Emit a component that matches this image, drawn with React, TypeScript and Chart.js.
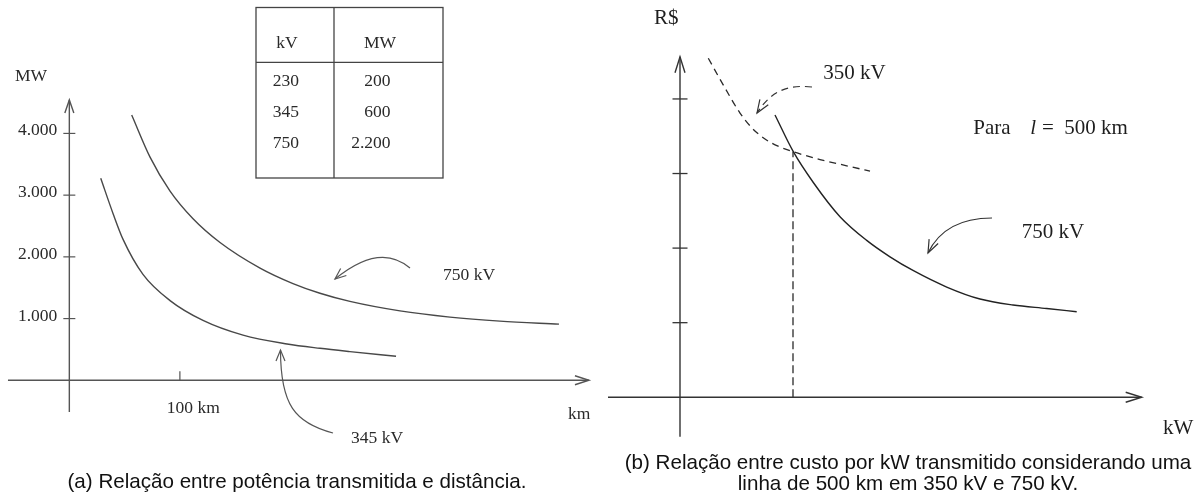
import React, { useEffect, useRef } from 'react';
import { Chart, registerables } from 'chart.js';

Chart.register(...registerables);

// ---------- Panel (a): power vs distance ----------
const distance345 = [28.4, 39.5, 48.6, 66.6, 91.1, 120.9, 157.1, 196.9, 226.7, 253.8, 295.5];
const power345 = [3273, 2704, 2283, 1716, 1291, 970, 731, 588, 518, 465, 390];
const distance750 = [56.4, 73.0, 91.1, 111.9, 136.3, 172.5, 202.3, 226.7, 253.8, 299.1, 344.3, 389.5, 442.9];
const power750 = [4299, 3617, 3066, 2618, 2233, 1818, 1567, 1410, 1278, 1124, 1024, 959, 910];
const powerTicks = [1000, 2000, 3000, 4000];
const distanceTicks = [100];
const tableKV = ['230', '345', '750'];
const tableMW = [200, 600, 2200];

// ---------- Panel (b): cost per kW vs kW ----------
const load350 = [0.566, 0.9, 1.2, 1.44, 1.7, 1.98, 2.26, 2.8, 3.334, 3.8];
const cost350 = [4.545, 4.147, 3.811, 3.61, 3.463, 3.362, 3.293, 3.187, 3.104, 3.031];
const load750 = [1.9, 2.266, 2.666, 3.2, 3.734, 4.2, 4.66, 5.334, 6.0, 6.66, 7.334, 7.934];
const cost750 = [3.785, 3.293, 2.88, 2.421, 2.103, 1.883, 1.7, 1.478, 1.317, 1.237, 1.19, 1.147];
const crossLoad = [2.26];
const crossCost = [3.293];
const costTicks = [1, 2, 3, 4];

const SERIF = '"Liberation Serif", "Times New Roman", serif';
const SANS = '"Liberation Sans", Arial, Helvetica, sans-serif';

const fmtBR = (n: number) => String(n).replace(/\B(?=(\d{3})+(?!\d))/g, '.');

function txt(ctx: CanvasRenderingContext2D, s: string, x: number, cy: number, size: number, align: CanvasTextAlign = 'left', italic = false) {
  ctx.font = `${italic ? 'italic ' : ''}${size}px ${SERIF}`;
  ctx.textAlign = align;
  ctx.textBaseline = 'alphabetic';
  ctx.fillText(s, x, cy + 0.34 * size);
}
function seg(ctx: CanvasRenderingContext2D, x1: number, y1: number, x2: number, y2: number) {
  ctx.beginPath();
  ctx.moveTo(x1, y1);
  ctx.lineTo(x2, y2);
  ctx.stroke();
}
function head(ctx: CanvasRenderingContext2D, tx: number, ty: number, dx: number, dy: number, len: number, half: number) {
  const l = Math.hypot(dx, dy);
  const ux = dx / l, uy = dy / l;
  const bx = tx - ux * len, by = ty - uy * len;
  const px = -uy, py = ux;
  ctx.beginPath();
  ctx.moveTo(bx + px * half, by + py * half);
  ctx.lineTo(tx, ty);
  ctx.lineTo(bx - px * half, by - py * half);
  ctx.stroke();
}

const A_X_EXT = [-55.5, 470];
const A_Y_EXT = [-514, 4542];
const B_X_EXT = [-1.44, 9.234];
const B_Y_EXT = [-0.529, 4.566];

const panelAPlugin = {
  id: 'panelA',
  afterDraw(chart: any) {
    const { ctx, scales } = chart;
    const x = scales.x, y = scales.y;
    const x0 = x.getPixelForValue(0), y0 = y.getPixelForValue(0);
    ctx.save();
    ctx.strokeStyle = '#555';
    ctx.fillStyle = '#2a2a2a';
    ctx.lineWidth = 1.4;
    const xl = x.getPixelForValue(A_X_EXT[0]), xr = x.getPixelForValue(A_X_EXT[1]);
    seg(ctx, xl, y0, xr, y0);
    head(ctx, xr, y0, 1, 0, 14, 4.5);
    const yb = y.getPixelForValue(A_Y_EXT[0]), yt = y.getPixelForValue(A_Y_EXT[1]);
    seg(ctx, x0, yb, x0, yt);
    head(ctx, x0, yt, 0, -1, 13, 4.5);
    ctx.lineWidth = 1.2;
    powerTicks.forEach((v) => {
      const py = y.getPixelForValue(v);
      seg(ctx, x0 - 6, py, x0 + 6, py);
      txt(ctx, fmtBR(v), x0 - 12, py - 4, 17.5, 'right');
    });
    distanceTicks.forEach((v) => {
      const px = x.getPixelForValue(v);
      seg(ctx, px, y0 - 9, px, y0);
      txt(ctx, `${v} km`, px + 13.4, y0 + 26.7, 17.5, 'center');
    });
    txt(ctx, 'MW', 15, 75, 17.5);
    txt(ctx, 'km', 568, 413, 17.5);

    // table
    ctx.strokeStyle = '#444';
    ctx.lineWidth = 1.3;
    ctx.strokeRect(256, 7.5, 187, 170.5);
    seg(ctx, 334, 7.5, 334, 178);
    seg(ctx, 256, 62.3, 443, 62.3);
    txt(ctx, 'kV', 287, 41.7, 17.5, 'center');
    txt(ctx, 'MW', 380, 41.7, 17.5, 'center');
    const rowY = [80, 111, 142.5];
    tableKV.forEach((k, i) => txt(ctx, k, 272.7, rowY[i], 17.5, 'left'));
    tableMW.forEach((m, i) => txt(ctx, fmtBR(m), 390.5, rowY[i], 17.5, 'right'));

    // labels and pointers
    txt(ctx, '750 kV', 443, 274, 17.5);
    txt(ctx, '345 kV', 351, 437, 17.5);
    ctx.strokeStyle = '#555';
    ctx.lineWidth = 1.2;
    ctx.beginPath();
    ctx.moveTo(410, 268);
    ctx.quadraticCurveTo(380, 242, 335, 279);
    ctx.stroke();
    head(ctx, 335, 279, 335 - 380, 279 - 242, 11, 4.5);
    ctx.beginPath();
    ctx.moveTo(333, 433);
    ctx.bezierCurveTo(295, 423, 280.5, 405, 280.5, 350);
    ctx.stroke();
    head(ctx, 280.5, 350, 0, -1, 11, 4.5);
    ctx.restore();
  },
};

const panelBPlugin = {
  id: 'panelB',
  afterDraw(chart: any) {
    const { ctx, scales } = chart;
    const x = scales.x, y = scales.y;
    const x0 = x.getPixelForValue(0), y0 = y.getPixelForValue(0);
    ctx.save();
    ctx.strokeStyle = '#333';
    ctx.fillStyle = '#1e1e1e';
    ctx.lineWidth = 1.4;
    const xl = x.getPixelForValue(B_X_EXT[0]), xr = x.getPixelForValue(B_X_EXT[1]);
    seg(ctx, xl, y0, xr, y0);
    head(ctx, xr, y0, 1, 0, 16, 5);
    const yb = y.getPixelForValue(B_Y_EXT[0]), yt = y.getPixelForValue(B_Y_EXT[1]);
    seg(ctx, x0, yb, x0, yt);
    head(ctx, x0, yt, 0, -1, 16, 5);
    ctx.lineWidth = 1.3;
    costTicks.forEach((v) => {
      const py = y.getPixelForValue(v);
      seg(ctx, x0 - 7.5, py, x0 + 7.5, py);
    });
    txt(ctx, 'R$', 54, 16.7, 21);
    txt(ctx, 'kW', 563, 426.7, 21);
    txt(ctx, '350 kV', 223.3, 71.7, 21);
    txt(ctx, '750 kV', 421.7, 230.7, 21);
    const px0 = 373.3, pcy = 127.3;
    txt(ctx, 'Para', px0, pcy, 21);
    txt(ctx, 'l', px0 + 57, pcy, 21, 'left', true);
    txt(ctx, '=', px0 + 74.5, pcy, 21, 'center');
    txt(ctx, '500 km', px0 + 91, pcy, 21);

    // pointers
    ctx.lineWidth = 1.2;
    ctx.setLineDash([7, 5]);
    ctx.beginPath();
    ctx.moveTo(212, 87);
    ctx.bezierCurveTo(185, 84, 170, 93, 157, 113);
    ctx.stroke();
    ctx.setLineDash([]);
    head(ctx, 157, 113, 157 - 170, 113 - 93, 13, 5);
    ctx.beginPath();
    ctx.moveTo(392, 218);
    ctx.bezierCurveTo(362, 218, 340, 228, 328, 253);
    ctx.stroke();
    head(ctx, 328, 253, 328 - 340, 253 - 228, 13, 5);
    ctx.restore();
  },
};

const pts = (xs: number[], ys: number[]) => xs.map((v, i) => ({ x: v, y: ys[i] }));

export default function App() {
  const refA = useRef<HTMLCanvasElement | null>(null);
  const refB = useRef<HTMLCanvasElement | null>(null);

  useEffect(() => {
    const common = {
      responsive: false,
      animation: false,
      devicePixelRatio: 1,
      events: [],
      plugins: { legend: { display: false }, tooltip: { enabled: false } },
    };
    const chartA = new Chart(refA.current!, {
      type: 'line',
      data: {
        datasets: [
          { label: '345 kV', data: pts(distance345, power345), borderColor: '#484848', borderWidth: 1.4, pointRadius: 0, cubicInterpolationMode: 'monotone', fill: false },
          { label: '750 kV', data: pts(distance750, power750), borderColor: '#484848', borderWidth: 1.4, pointRadius: 0, cubicInterpolationMode: 'monotone', fill: false },
        ],
      },
      options: {
        ...common,
        layout: { padding: { left: 3, right: 0, top: 10, bottom: 52 } },
        scales: {
          x: { type: 'linear', display: false, min: -60, max: 480 },
          y: { type: 'linear', display: false, min: -1000, max: 6000 },
        },
      } as any,
      plugins: [panelAPlugin],
    });
    const chartB = new Chart(refB.current!, {
      type: 'line',
      data: {
        datasets: [
          { label: '350 kV', data: pts(load350, cost350), borderColor: '#2a2a2a', borderWidth: 1.3, borderDash: [7, 5], pointRadius: 0, cubicInterpolationMode: 'monotone', fill: false },
          { label: '750 kV', data: pts(load750, cost750), borderColor: '#222', borderWidth: 1.4, pointRadius: 0, cubicInterpolationMode: 'monotone', fill: false },
          { label: 'cruzamento', data: [{ x: crossLoad[0], y: 0 }, { x: crossLoad[0], y: crossCost[0] }], borderColor: '#2a2a2a', borderWidth: 1.3, borderDash: [8, 4], pointRadius: 0, fill: false },
        ],
      },
      options: {
        ...common,
        layout: { padding: { left: 0, right: 2, top: 2, bottom: 52 } },
        scales: {
          x: { type: 'linear', display: false, min: -1.6, max: 10.4 },
          y: { type: 'linear', display: false, min: -0.6, max: 5.3 },
        },
      } as any,
      plugins: [panelBPlugin],
    });
    return () => {
      chartA.destroy();
      chartB.destroy();
    };
  }, []);

  const cap: React.CSSProperties = {
    position: 'absolute',
    fontFamily: SANS,
    fontSize: '20.6px',
    lineHeight: '24px',
    height: '24px',
    textAlign: 'center',
    color: '#111',
    whiteSpace: 'nowrap',
  };

  return (
    <div style={{ position: 'absolute', left: 0, top: 0, width: 1202, height: 494, background: '#fff', overflow: 'hidden' }}>
      <canvas ref={refA} width={600} height={494} style={{ position: 'absolute', left: 0, top: 0, display: 'block' }} />
      <canvas ref={refB} width={602} height={494} style={{ position: 'absolute', left: 600, top: 0, display: 'block' }} />
      <div style={{ ...cap, left: 0, width: 594, top: 480.7 - 12 }}>(a) Relação entre potência transmitida e distância.</div>
      <div style={{ ...cap, left: 608, width: 600, top: 461.7 - 12 }}>(b) Relação entre custo por kW transmitido considerando uma</div>
      <div style={{ ...cap, left: 608, width: 600, top: 483.3 - 12 }}>linha de 500 km em 350 kV e 750 kV.</div>
    </div>
  );
}
